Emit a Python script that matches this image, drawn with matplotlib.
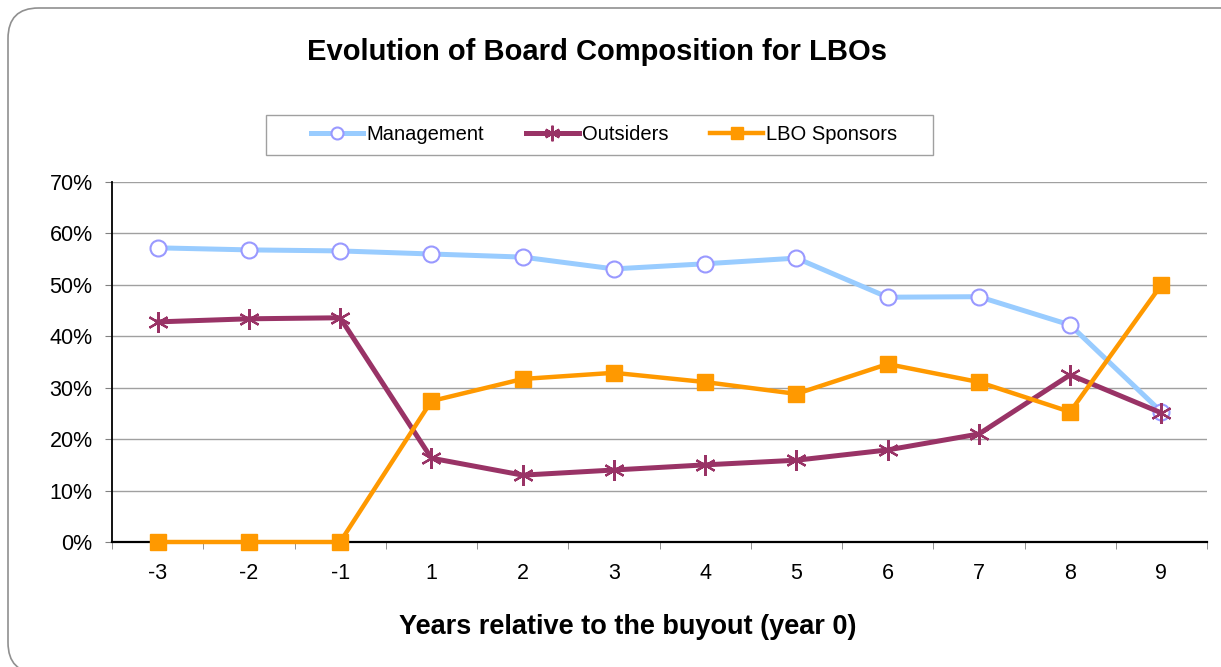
import numpy as np
import matplotlib.pyplot as plt
from matplotlib.patches import FancyBboxPatch, Rectangle

plt.rcParams['font.family'] = ['Liberation Sans', 'DejaVu Sans']

# dane
years = ['-3', '-2', '-1', '1', '2', '3', '4', '5', '6', '7', '8', '9']
management = [57.2, 56.8, 56.6, 56.0, 55.4, 53.1, 54.1, 55.2, 47.6, 47.7, 42.2, 25.3]
outsiders = [42.8, 43.4, 43.6, 16.3, 13.0, 14.0, 15.0, 15.9, 17.9, 21.0, 32.5, 25.1]
lbo_sponsors = [0.0, 0.0, 0.0, 27.4, 31.7, 32.9, 31.1, 28.8, 34.6, 31.1, 25.3, 50.0]
yticks = [0, 10, 20, 30, 40, 50, 60, 70]

fig = plt.figure(figsize=(12.21, 6.67), dpi=100)
W, H = 1221, 667

# zaokraglona ramka (prawa i dolna krawedz wychodza poza obraz)
frame = FancyBboxPatch((8 / W, -6 / H), 1250 / W, 665 / H,
                       boxstyle='round,pad=0,rounding_size=0.025',
                       transform=fig.transFigure, fill=False,
                       edgecolor='#909090', linewidth=1.2,
                       mutation_aspect=W / H)
fig.patches.append(frame)

ax = fig.add_axes([112 / W, 1 - 542 / H, (1207 - 112) / W, (542 - 182) / H])
x = np.arange(len(years))

ax.plot(x, management, color='#99CCFF', lw=3.6, marker='o', ms=11.5,
        mfc='white', mec='#9999FF', mew=1.5, label='Management', zorder=3,
        clip_on=False)
ax.plot(x, outsiders, color='#993366', lw=3.6, marker=(6, 2, 0), ms=15,
        mec='#993366', mew=1.6, label='Outsiders', zorder=4, clip_on=False)
ax.plot(x, lbo_sponsors, color='#FF9900', lw=3.2, marker='s', ms=12,
        mfc='#FF9900', mec='#FF9900', label='LBO Sponsors', zorder=5,
        clip_on=False)

ax.set_xlim(-0.5, len(years) - 0.5)
ax.set_ylim(0, 70)
ax.set_yticks(yticks)
ax.set_yticklabels([f'{v}%' for v in yticks], fontsize=15.5)
ax.set_xticks(x)
ax.set_xticklabels(years, fontsize=15.5)
ax.set_xticks(np.arange(-0.5, len(years)), minor=True)
ax.tick_params(axis='x', which='major', length=0, pad=15)
ax.tick_params(axis='x', which='minor', length=5, color='#808080', direction='out')
ax.tick_params(axis='y', length=5, color='#808080', pad=9)

ax.yaxis.grid(True, color='#A0A0A0', lw=1)
ax.set_axisbelow(True)
for s in ['top', 'right']:
    ax.spines[s].set_visible(False)
ax.spines['left'].set_color('black')
ax.spines['left'].set_linewidth(1.3)
ax.spines['bottom'].set_color('black')
ax.spines['bottom'].set_linewidth(1.6)

fig.text(628 / W, 1 - 627 / H, 'Years relative to the buyout (year 0)',
         ha='center', va='center', fontsize=19.5, fontweight='bold')

fig.text(597 / W, 1 - 52 / H, 'Evolution of Board Composition for LBOs',
         ha='center', va='center', fontsize=21, fontweight='bold')

# ramka legendy rysowana osobno
fig.patches.append(Rectangle((266 / W, 1 - 155 / H), (933 - 266) / W, 40 / H,
                             transform=fig.transFigure, fill=False,
                             edgecolor='#A0A0A0', linewidth=1.0))
leg = fig.legend(loc='center', bbox_to_anchor=(604 / W, 1 - 135 / H), ncol=3,
                 fontsize=14.5, frameon=False, handlelength=2.6,
                 handletextpad=0.15, columnspacing=2.1,
                 borderpad=0, borderaxespad=0, markerscale=0.75)

fig.savefig('out.png', dpi=100)
